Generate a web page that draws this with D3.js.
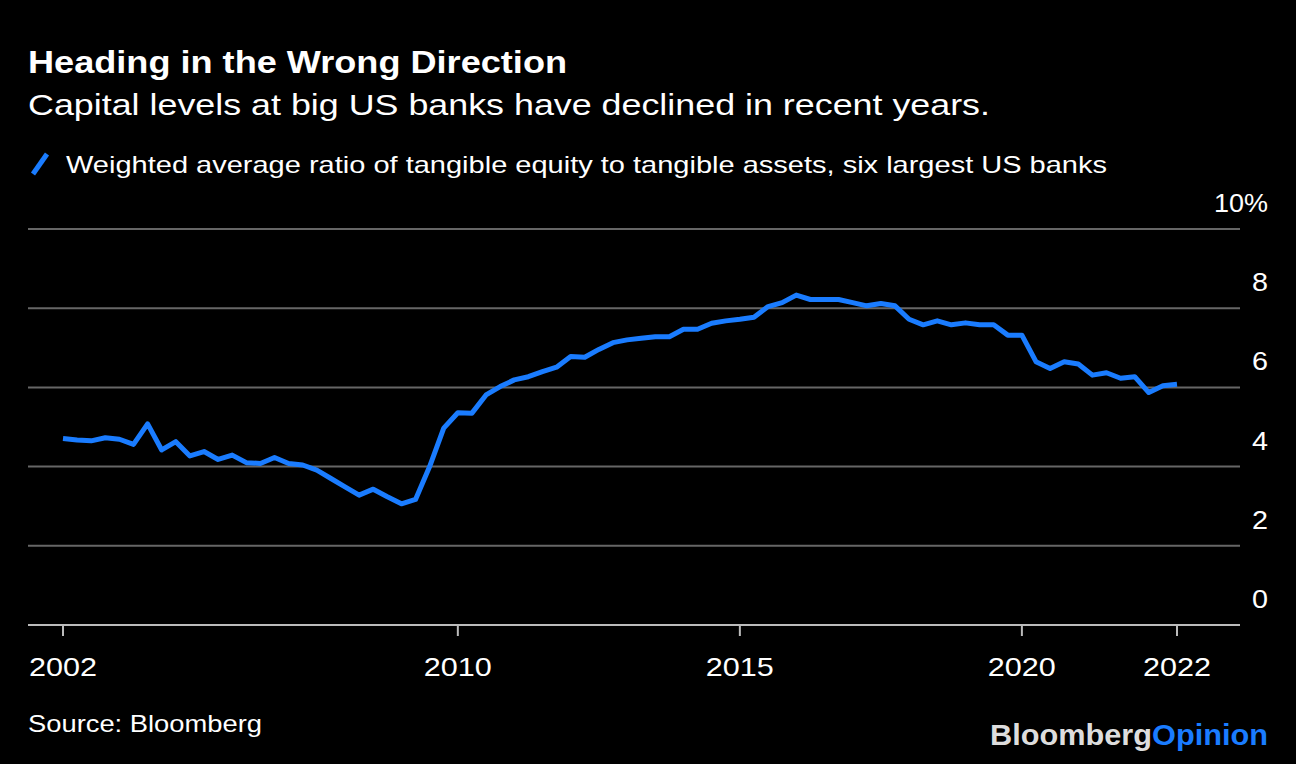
<!DOCTYPE html>
<html>
<head>
<meta charset="utf-8">
<script src="https://cdn.jsdelivr.net/npm/d3@7"></script>
<style>
  body { margin: 0; background: #000; }
  svg { display: block; font-family: "Helvetica Neue", "Liberation Sans", Arial, sans-serif; }
</style>
</head>
<body>
<svg id="chart" width="1296" height="764"></svg>
<script>
// quarterly observations, 2002 -> 2022 (index based)
const ratio = [
  4.71, 4.67, 4.65, 4.73, 4.69, 4.56, 5.08, 4.42, 4.63, 4.27,
  4.38, 4.18, 4.29, 4.10, 4.08, 4.23, 4.08, 4.04, 3.91, 3.70,
  3.49, 3.28, 3.43, 3.24, 3.06, 3.17, 4.00, 4.97, 5.36, 5.35,
  5.81, 6.02, 6.19, 6.27, 6.40, 6.51, 6.78, 6.76, 6.96, 7.13,
  7.20, 7.24, 7.28, 7.28, 7.47, 7.47, 7.62, 7.68, 7.72, 7.77,
  8.04, 8.14, 8.33, 8.22, 8.22, 8.22, 8.14, 8.06, 8.12, 8.06,
  7.72, 7.58, 7.68, 7.58, 7.63, 7.58, 7.58, 7.32, 7.32, 6.65,
  6.48, 6.65, 6.59, 6.31, 6.37, 6.23, 6.27, 5.87, 6.04, 6.08
];
const xTickIdx = [0, 28, 48, 68, 79];
const xTickLabels = ["2002", "2010", "2015", "2020", "2022"];
const yTicks = [0, 2, 4, 6, 8, 10];

const svg = d3.select("#chart");
const x = d3.scaleLinear().domain([0, ratio.length - 1]).range([63, 1177]);
const y = d3.scaleLinear().domain([0, 10]).range([625, 229]);

// the reference font runs wider than Liberation, so stretch to measured widths
function label(px, py, str, size, width, anchor) {
  return svg.append("text").attr("x", px).attr("y", py).attr("fill", "#fff")
    .attr("font-size", size).attr("text-anchor", anchor || "start")
    .attr("textLength", width).attr("lengthAdjust", "spacingAndGlyphs").text(str);
}

label(28, 73, "Heading in the Wrong Direction", 31, 539).attr("font-weight", "bold");
label(28, 115, "Capital levels at big US banks have declined in recent years.", 29, 962);

// legend
svg.append("line").attr("x1", 33).attr("y1", 174).attr("x2", 47).attr("y2", 154)
  .attr("stroke", "#1a7cff").attr("stroke-width", 5);
label(66, 173, "Weighted average ratio of tangible equity to tangible assets, six largest US banks", 24, 1041);

// grid + y labels
yTicks.forEach(t => {
  svg.append("line").attr("x1", 28).attr("x2", 1240).attr("y1", y(t)).attr("y2", y(t))
    .attr("stroke", t === 0 ? "#bbb" : "#666").attr("stroke-width", 2);
  const s = t === 10 ? "10%" : String(t);
  label(1268, y(t) - 17, s, 25, s.length === 3 ? 54 : 16, "end");
});

// x ticks
xTickIdx.forEach((d, i) => {
  svg.append("line").attr("x1", x(d)).attr("x2", x(d)).attr("y1", 625).attr("y2", 636)
    .attr("stroke", "#bbb").attr("stroke-width", 2);
  label(x(d), 676, xTickLabels[i], 25, 68, "middle");
});

svg.append("path").datum(ratio)
  .attr("d", d3.line().x((d, i) => x(i)).y(d => y(d)))
  .attr("fill", "none").attr("stroke", "#1a7cff").attr("stroke-width", 5)
  .attr("stroke-linejoin", "round");

label(28, 732, "Source: Bloomberg", 24, 234);
const logo = svg.append("text").attr("x", 1268).attr("y", 745).attr("text-anchor", "end")
  .attr("font-size", 29).attr("font-weight", "bold")
  .attr("textLength", 278).attr("lengthAdjust", "spacingAndGlyphs");
logo.append("tspan").attr("fill", "#ddd").text("Bloomberg");
logo.append("tspan").attr("fill", "#1a7cff").text("Opinion");
</script>
</body>
</html>
